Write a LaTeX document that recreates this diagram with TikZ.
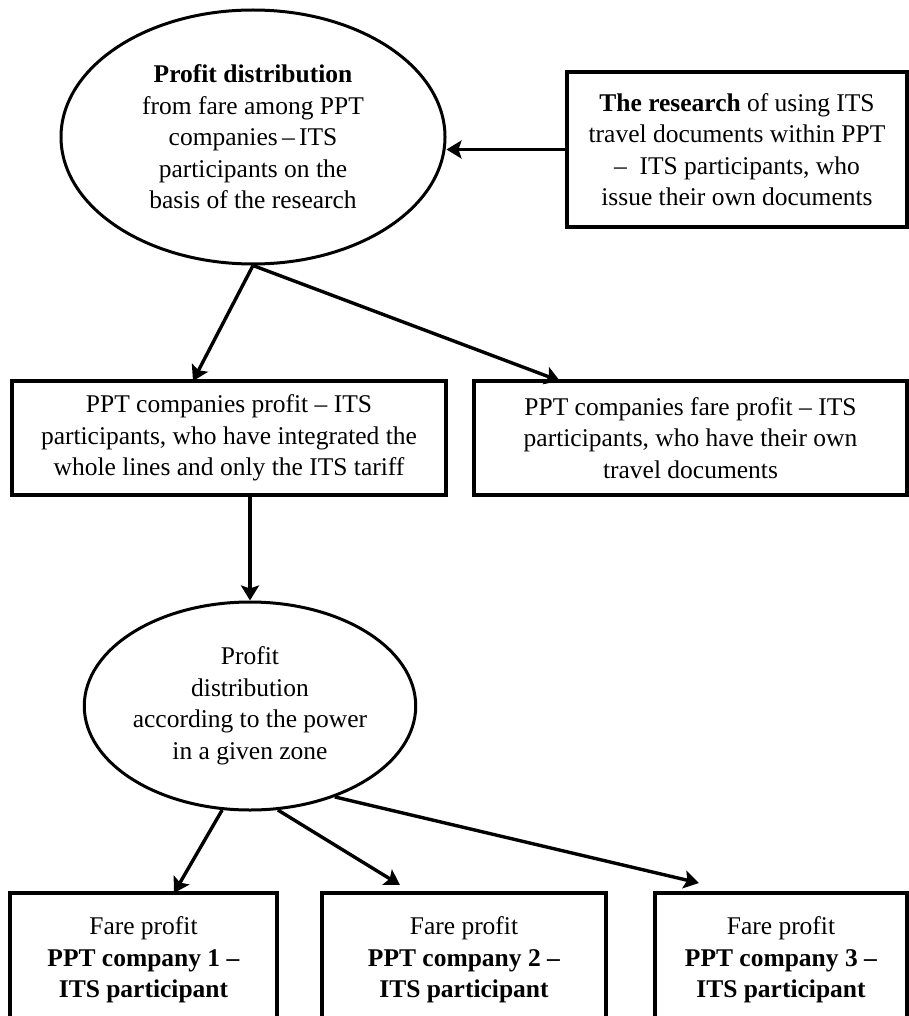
\documentclass[tikz,border=0pt]{standalone}
\usepackage{fontspec}
\setmainfont{Liberation Serif}
\usetikzlibrary{arrows.meta,shapes.geometric}
\tikzset{
  txt/.style={font=\fontsize{25.5}{31.5}\selectfont, align=center, text=black},
  boxnode/.style={txt, draw=black, line width=3.4pt, rectangle, inner sep=0pt},
  ellnode/.style={txt, draw=black, line width=3pt, ellipse, inner sep=0pt},
  arr/.style={-{Stealth[length=15pt,width=18pt,inset=3pt]}, line width=3.4pt, draw=black}
}
\begin{document}
\begin{tikzpicture}[x=1pt,y=-1pt]
\useasboundingbox[fill=white] (0,0) rectangle (909,1016);

\node[ellnode, minimum width=384pt, minimum height=254pt] (E1) at (253,137)
  {\textbf{Profit distribution}\\ from fare among PPT\\ companies\,–\,ITS\\ participants on the\\ basis of the research};

\node[boxnode, minimum width=340pt, minimum height=155pt] (R) at (737,149.5)
  {\textbf{The research} of using ITS\\ travel documents within PPT\\ – \ ITS participants, who\\ issue their own documents};

\node[boxnode, minimum width=434pt, minimum height=114pt] (B1) at (229,438)
  {PPT companies profit – ITS\\ participants, who have integrated the\\ whole lines and only the ITS tariff};

\node[boxnode, minimum width=433pt, minimum height=114pt] (B2) at (690.5,438)
  {PPT companies fare profit – ITS\\ participants, who have their own\\ travel documents};

\node[ellnode, minimum width=296pt, minimum height=208pt] (E2) at (250,706)
  {Profit\\ distribution\\ according to the power\\ in a given zone};

\node[boxnode, minimum width=267pt, minimum height=134pt] (BA) at (143.5,960)
  {Fare profit\\ \textbf{PPT company 1 –}\\ \textbf{ITS participant}};
\node[boxnode, minimum width=284pt, minimum height=134pt] (BB) at (464,960)
  {Fare profit\\ \textbf{PPT company 2 –}\\ \textbf{ITS participant}};
\node[boxnode, minimum width=252pt, minimum height=134pt] (BC) at (781,960)
  {Fare profit\\ \textbf{PPT company 3 –}\\ \textbf{ITS participant}};

\coordinate (b1in) at (193,381);
\coordinate (b2in) at (560,381);
\coordinate (cA) at (174,893);
\coordinate (cB) at (400,885);
\coordinate (cC) at (699,883);

\draw[arr] (R.west) -- (E1.east |- R.west);
\draw[arr] (E1.south) -- (b1in);
\draw[arr] (E1.south) -- (b2in);
\draw[arr] (E2.north |- B1.south) -- (E2.north);
\draw[arr] (E2.255) -- (cA);
\draw[arr] (E2.-75) -- (cB);
\draw[arr] (E2.-47) -- (cC);
\end{tikzpicture}
\end{document}
